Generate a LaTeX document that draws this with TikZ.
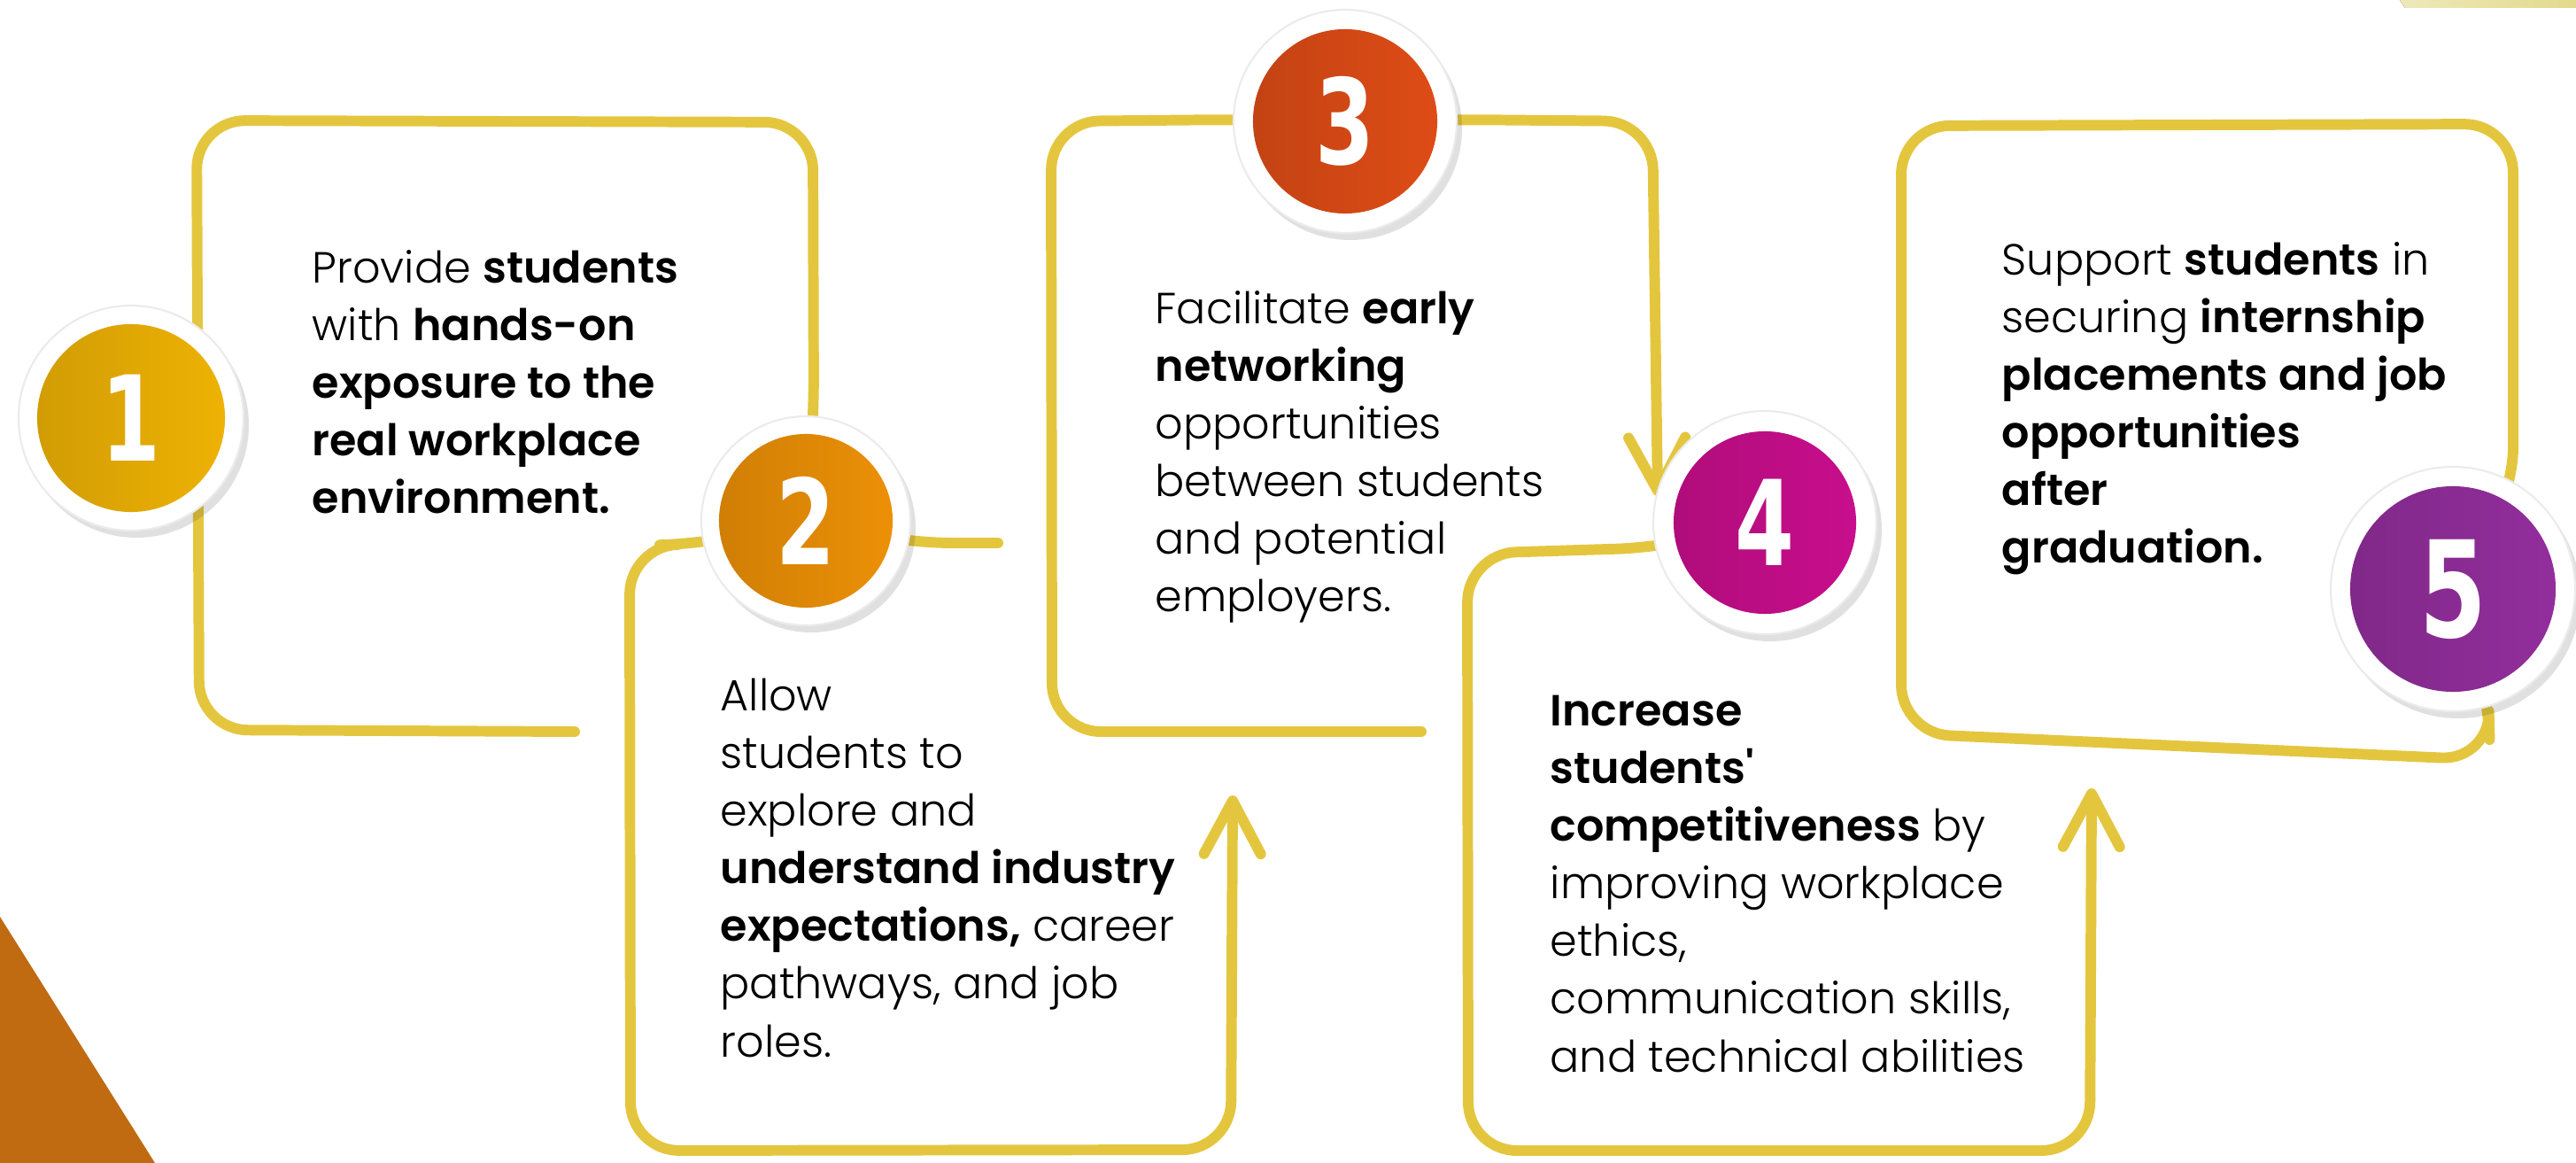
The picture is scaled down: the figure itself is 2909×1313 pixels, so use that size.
\documentclass[tikz,border=0pt]{standalone}
\usepackage{fontspec}
\usepackage{graphicx}
\setmainfont{Poppins}[UprightFont={* Light},BoldFont={* SemiBold}]
\newfontfamily\numfont{DejaVu Sans}
\usetikzlibrary{arrows.meta}
\definecolor{lineyellow}{RGB}{228,198,62}
\definecolor{cornerorange}{RGB}{192,106,18}
\definecolor{bandyellow}{RGB}{226,218,140}
\definecolor{onecol}{RGB}{238,178,4}
\definecolor{twocol}{RGB}{236,144,6}
\definecolor{threecol}{RGB}{222,76,22}
\definecolor{fourcol}{RGB}{200,14,140}
\definecolor{fivecol}{RGB}{146,46,156}
\tikzset{
  outline/.style={draw=lineyellow,line width=3.4pt,line cap=round,line join=round,rounded corners=0.55cm},
  barb/.style={-{Straight Barb[length=0.6cm,width=0.64cm,round]}},
  ringshade/.style={fill=black,opacity=0.12},
  ring/.style={fill=white,draw=black!8,line width=0.6pt},
  badge/.style={circle,inner sep=0pt,text=white,font=\numfont\bfseries\fontsize{38pt}{38pt}\selectfont},
  txt/.style={anchor=base west,inner sep=0pt,align=left,font=\fontsize{14pt}{18.5pt}\selectfont}
}
\begin{document}
\begin{tikzpicture}[x=0.01cm,y=-0.01cm]
\useasboundingbox (0,0) rectangle (2909,1313);
\fill[cornerorange] (0,1035) -- (175,1313) -- (0,1313) -- cycle;
\fill[left color=bandyellow!60,right color=bandyellow] (2710,0) -- (2909,0) -- (2909,9) -- (2716,9) -- cycle;
\coordinate (c1) at (148,472);
\coordinate (c2) at (910,588);
\coordinate (c3) at (1519,137);
\coordinate (c4) at (1993,590);
\coordinate (c5) at (2770,665);
\draw[outline] (649,826) -- (225,824) -- (222,136) -- (918,138) -- (919,480) -- (c2);
\draw[outline,barb] (c2) -- (800,614) -- (711,616) -- (712,1299) -- (1390,1298) -- (1392,898);
\draw[outline] (c2) -- (1020,613) -- (1127,613);
\draw[outline] (1605,826) -- (1188,826) -- (1187,137) -- (1400,135) -- (c3);
\draw[outline,barb] (c3) -- (1640,135) -- (1866,137) -- (1872,560);
\draw[outline,barb] (c4) -- (1880,618) -- (1657,625) -- (1658,1299) -- (2360,1299) -- (2362,890);
\draw[outline] (c5) -- (2838,560) -- (2838,140) -- (2147,142) -- (2147,828) -- (2812,858) -- (2810,780) -- (c5);
\fill[ringshade] (154,480) circle (127);
\fill[ring] (c1) circle (127);
\node[badge,minimum size=2.12cm,left color=onecol!88!black,right color=onecol] (b1) at (c1) {\scalebox{0.72}[1]{1}};
\fill[ringshade] (916,596) circle (118);
\fill[ring] (c2) circle (118);
\node[badge,minimum size=1.96cm,left color=twocol!88!black,right color=twocol] (b2) at (c2) {\scalebox{0.72}[1]{2}};
\fill[ringshade] (1525,145) circle (126);
\fill[ring] (c3) circle (126);
\node[badge,minimum size=2.08cm,left color=threecol!88!black,right color=threecol] (b3) at (c3) {\scalebox{0.72}[1]{3}};
\fill[ringshade] (1999,598) circle (126);
\fill[ring] (c4) circle (126);
\node[badge,minimum size=2.06cm,left color=fourcol!88!black,right color=fourcol] (b4) at (c4) {\scalebox{0.72}[1]{4}};
\fill[ringshade] (2776,673) circle (138);
\fill[ring] (c5) circle (138);
\node[badge,minimum size=2.32cm,left color=fivecol!88!black,right color=fivecol,font=\numfont\bfseries\fontsize{43pt}{43pt}\selectfont] (b5) at (c5) {\scalebox{0.72}[1]{5}};
\node[txt] (t1) at (352,580) {Provide \textbf{students}\\with \textbf{hands-on}\\\textbf{exposure to the}\\\textbf{real workplace}\\\textbf{environment.}};
\node[txt] (t2) at (813,1193) {Allow\\students to\\explore and\\\textbf{understand industry}\\\textbf{expectations,} career\\pathways, and job\\roles.};
\node[txt] (t3) at (1304,691) {Facilitate \textbf{early}\\\textbf{networking}\\opportunities\\between students\\and potential\\employers.};
\node[txt] (t4) at (1750,1210) {\textbf{Increase}\\\textbf{students\textquotesingle}\\\textbf{competitiveness} by\\improving workplace\\ethics,\\communication skills,\\and technical abilities};
\node[txt] (t5) at (2260,636) {Support \textbf{students} in\\securing \textbf{internship}\\\textbf{placements and job}\\\textbf{opportunities}\\\textbf{after}\\\textbf{graduation.}};
\end{tikzpicture}
\end{document}
